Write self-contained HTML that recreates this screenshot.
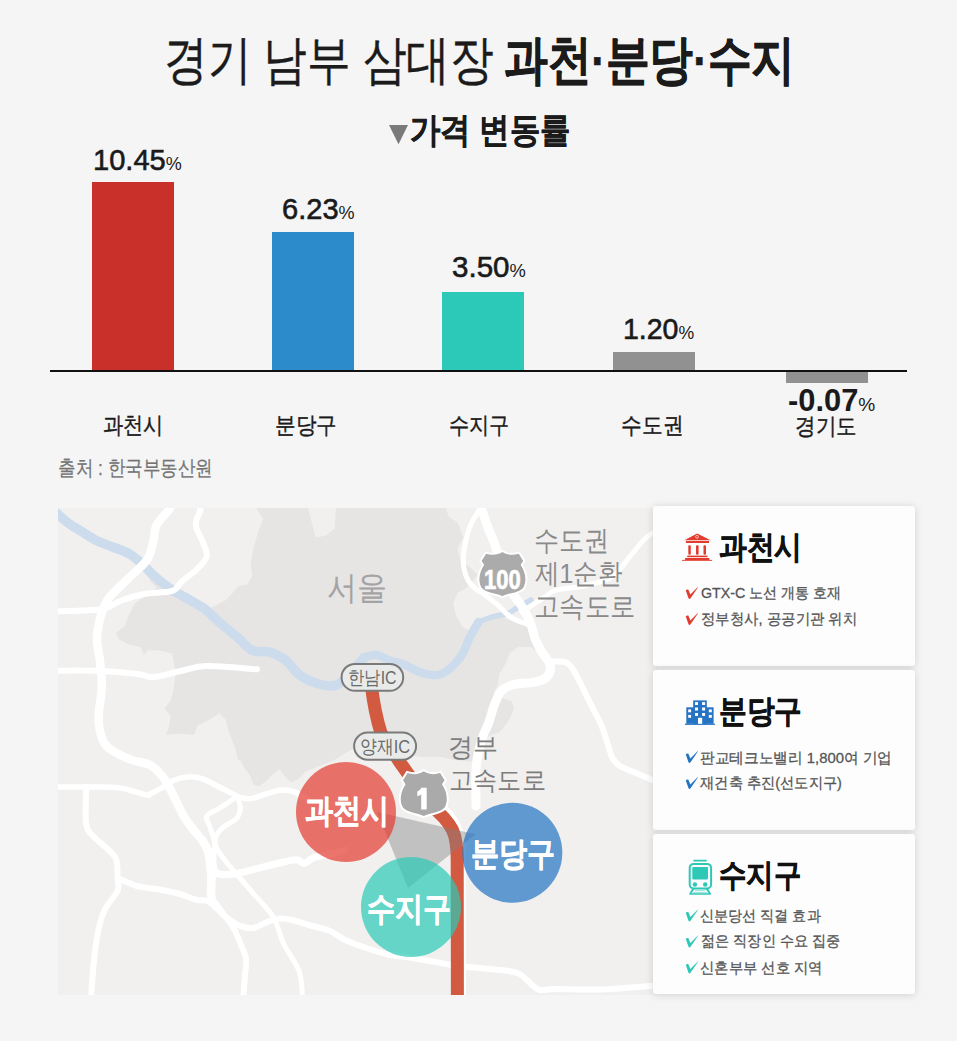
<!DOCTYPE html>
<html lang="ko">
<head>
<meta charset="utf-8">
<title>경기 남부 삼대장 과천·분당·수지</title>
<style>
html,body{margin:0;padding:0}
body{width:957px;height:1041px;overflow:hidden;position:relative;background:#f5f5f5;font-family:"Liberation Sans",sans-serif;color:#1a1a1a}
.t{position:absolute;white-space:nowrap;line-height:1;transform-origin:0 0}
.bar{position:absolute;width:82px}
.pct{font-size:0.62em;-webkit-text-stroke:0 !important}
.card{position:absolute;left:653px;width:262px;height:160px;background:#fdfdfd;border-radius:3px;box-shadow:0 1px 8px rgba(0,0,0,0.15)}
</style>
</head>
<body>
<svg style="position:absolute;left:389px;top:124.5px" width="20" height="20"><path d="M0 0H19L9.5 19.3Z" fill="#7a7a7a"/></svg>
<div class="bar" style="left:92px;top:182px;height:188px;background:#c9302a"></div>
<div class="bar" style="left:272px;top:232px;height:138px;background:#2b8bcb"></div>
<div class="bar" style="left:442px;top:292px;height:78px;background:#2dc9b8"></div>
<div class="bar" style="left:613px;top:352px;height:18px;background:#919191"></div>
<div class="bar" style="left:786px;top:372px;height:11px;background:#919191"></div>
<div style="position:absolute;left:50px;top:370px;width:857px;height:2px;background:#111"></div>
<div class="t" id="title" style="left:164.3px;top:33.8px;font-size:52.50px;transform:scaleX(0.8236);color:#1b1b1b;-webkit-text-stroke:0.35px #1b1b1b">경기 남부 삼대장</div>
<div class="t" id="title2" style="left:503.5px;top:34.1px;font-size:52.50px;transform:scaleX(0.8242);color:#1b1b1b;font-weight:bold;-webkit-text-stroke:0.6px #1b1b1b">과천·분당·수지</div>
<div class="t" id="sub" style="left:410.2px;top:112.9px;font-size:35.44px;transform:scaleX(0.8673);font-weight:bold;color:#1b1b1b;-webkit-text-stroke:0.4px #1b1b1b">가격 변동률</div>
<div class="t" id="v1" style="left:93.2px;top:145.1px;font-size:29.80px;transform:scaleX(0.9756);-webkit-text-stroke:0.6px #1a1a1a">10.45<span class="pct">%</span></div>
<div class="t" id="v2" style="left:281.7px;top:193.8px;font-size:29.80px;transform:scaleX(0.9754);-webkit-text-stroke:0.6px #1a1a1a">6.23<span class="pct">%</span></div>
<div class="t" id="v3" style="left:451.7px;top:251.7px;font-size:29.80px;transform:scaleX(0.9917);-webkit-text-stroke:0.6px #1a1a1a">3.50<span class="pct">%</span></div>
<div class="t" id="v4" style="left:623.2px;top:313.9px;font-size:29.80px;transform:scaleX(0.9566);-webkit-text-stroke:0.6px #1a1a1a">1.20<span class="pct">%</span></div>
<div class="t" id="v5" style="left:787.5px;top:384.9px;font-size:30.45px;transform:scaleX(1.0138);font-weight:bold">-0.07<span class="pct" style="font-weight:normal;-webkit-text-stroke:0.6px #1a1a1a">%</span></div>
<div class="t" id="l1" style="left:102.9px;top:414.0px;font-size:23.00px;transform:scaleX(0.8775);-webkit-text-stroke:0.4px #1a1a1a">과천시</div>
<div class="t" id="l2" style="left:275.2px;top:414.1px;font-size:23.00px;transform:scaleX(0.8955);-webkit-text-stroke:0.4px #1a1a1a">분당구</div>
<div class="t" id="l3" style="left:448.7px;top:414.0px;font-size:23.00px;transform:scaleX(0.8777);-webkit-text-stroke:0.4px #1a1a1a">수지구</div>
<div class="t" id="l4" style="left:621.1px;top:414.0px;font-size:23.00px;transform:scaleX(0.9037);-webkit-text-stroke:0.4px #1a1a1a">수도권</div>
<div class="t" id="l5" style="left:794.7px;top:414.7px;font-size:23.00px;transform:scaleX(0.8934);-webkit-text-stroke:0.4px #1a1a1a">경기도</div>
<div class="t" id="src" style="left:57.7px;top:458.2px;font-size:20.73px;transform:scaleX(0.8359);color:#747474;-webkit-text-stroke:0.25px #747474">출처 : 한국부동산원</div>
<div id="map" style="position:absolute;left:58px;top:508px;width:600px;height:487px;overflow:hidden;background:#f1f0ef">
<svg width="600" height="487" viewBox="58 508 600 487" style="position:absolute;left:0;top:0">
<rect x="58" y="508" width="600" height="487" fill="#f1f0ef"/>
<path fill="#e6e5e4" d="M256.9,508.0 L256.9,509.4 L263.2,518.8 L258.5,531.3 L253.8,547.0 L250.6,562.7 L252.2,575.2 L247.5,584.6 L238.1,586.2 L231.8,594.0 L225.5,600.3 L209.9,608.2 L203.6,608.2 L184.8,597.2 L169.1,587.8 L153.4,575.2 L147.2,573.7 L150.3,581.5 L156.6,587.8 L144.0,597.2 L134.6,603.4 L128.4,616.0 L125.2,625.4 L115.8,633.2 L119.0,639.5 L128.4,644.2 L140.9,647.3 L144.0,655.2 L147.2,650.5 L159.7,650.5 L172.3,653.6 L173.8,663.0 L175.4,675.5 L173.8,688.1 L170.7,700.6 L164.4,708.5 L170.7,716.3 L169.1,725.7 L166.0,735.1 L178.5,733.5 L194.2,735.1 L197.3,725.7 L209.9,719.4 L219.3,713.2 L225.5,719.4 L228.7,732.0 L235.0,747.6 L238.1,759.9 L240.3,760.0 L244.0,767.5 L249.7,775.0 L253.4,784.5 L259.1,786.3 L266.6,780.7 L274.1,773.2 L279.8,769.4 L285.4,776.9 L291.1,782.6 L298.6,778.8 L306.1,771.3 L318.2,766.6 L333.9,760.4 L346.4,752.5 L358.0,746.3 L380.0,748.0 L400.0,752.0 L420.0,757.0 L441.0,757.0 L455.0,760.0 L476.0,762.0 L478.0,750.0 L482.7,740.0 L491.0,734.7 L499.4,732.6 L507.8,722.1 L514.0,709.6 L512.0,701.2 L505.0,699.0 L493.1,692.9 L497.3,686.6 L499.4,674.0 L505.7,663.6 L509.9,653.1 L518.2,646.9 L530.8,646.9 L545.4,657.3 L541.2,651.0 L535.0,638.5 L530.8,628.0 L520.3,623.9 L507.8,619.7 L501.5,615.5 L493.1,617.6 L476.4,621.8 L468.1,630.2 L461.8,626.0 L455.5,613.4 L453.4,603.0 L457.6,592.5 L466.0,588.4 L478.0,575.0 L469.2,566.5 L460.4,560.7 L457.5,549.0 L463.3,537.3 L457.5,522.6 L448.7,516.8 L445.8,508.0 L336.0,508.0 L334.6,528.5 L325.8,535.8 L315.6,537.3 L312.6,525.6 L308.0,508.0 Z"/>
<g fill="none" stroke="#ccdcec" stroke-linecap="round" stroke-linejoin="round">
<path stroke-width="9.5" d="M46.0,505.0 C48.0,506.5 54.0,511.0 57.8,514.1 C61.6,517.2 64.9,520.6 68.8,523.5 C72.7,526.4 76.6,528.4 81.3,531.3 C86.0,534.2 91.8,538.2 97.0,540.8 C102.2,543.4 107.5,544.9 112.7,547.0 C117.9,549.1 123.7,550.7 128.4,553.3 C133.1,555.9 136.7,559.1 140.9,562.7 C145.1,566.4 148.7,571.0 153.4,575.2 C158.1,579.4 163.9,584.1 169.1,587.8 C174.3,591.5 179.1,593.8 184.8,597.2 C190.6,600.6 197.8,604.0 203.6,608.2 C209.3,612.4 213.6,617.3 219.3,622.3 C225.1,627.2 232.6,633.2 238.1,637.9 C243.6,642.6 247.0,648.1 252.2,650.5 C257.4,652.9 263.9,650.4 269.4,652.0 C274.9,653.6 280.1,656.1 285.1,659.9 C290.1,663.7 294.2,670.9 299.5,674.8 C304.8,678.7 311.1,681.7 317.0,683.5 C322.9,685.3 329.7,686.5 334.6,685.5 C339.5,684.5 341.4,682.3 346.3,677.7 C351.2,673.1 360.9,661.1 363.8,657.8"/>
<path stroke-width="8.5" d="M363.8,657.8 C365.8,657.3 371.1,654.3 375.5,654.8 C379.9,655.2 385.5,658.9 390.2,660.5 C394.9,662.1 398.1,662.3 403.7,664.5 C409.3,666.7 417.9,671.8 424.0,673.5 C430.1,675.2 435.0,675.9 440.0,674.5 C445.0,673.1 449.9,668.7 453.8,665.0 C457.7,661.3 460.6,657.0 463.2,652.5 C465.8,648.0 466.9,643.1 469.5,638.0 C472.1,632.9 477.0,624.7 478.5,622.0"/>
<path stroke-width="5.5" d="M478.5,622.0 C480.9,621.1 488.1,618.0 493.0,616.6 C497.9,615.2 503.6,615.0 507.8,613.4 C512.0,611.8 514.3,609.4 518.2,607.2 C522.1,605.0 528.9,601.2 531.0,600.0"/>
</g>
<g fill="none" stroke="#ffffff" stroke-linecap="round" stroke-linejoin="round">
<path stroke-width="8.5" d="M172.0,500.0 C171.5,501.6 171.7,505.2 169.1,509.4 C166.5,513.6 159.2,519.9 156.6,525.1 C154.0,530.3 155.0,535.0 153.4,540.8 C151.8,546.5 151.4,553.3 147.2,559.6 C143.0,565.9 134.7,572.1 128.4,578.4 C122.1,584.7 114.0,591.5 109.6,597.2 C105.1,603.0 103.8,606.1 101.7,612.9 C99.6,619.7 97.2,629.5 97.0,637.9 C96.8,646.2 99.4,654.6 100.2,663.0 C101.0,671.4 102.0,678.7 101.7,688.1 C101.4,697.5 98.3,710.5 98.6,719.4 C98.9,728.3 100.9,736.2 103.3,741.4 C105.7,746.6 108.0,747.7 112.7,750.8 C117.4,753.9 125.3,757.5 131.5,759.9 C137.7,762.3 145.0,762.5 150.0,765.0 C155.0,767.5 158.2,771.5 161.3,775.0 C164.4,778.5 166.3,781.9 168.8,786.3 C171.3,790.7 173.8,796.4 176.3,801.4 C178.8,806.4 181.1,811.7 183.9,816.4 C186.7,821.1 190.2,825.5 193.3,829.6 C196.4,833.7 200.2,837.1 202.7,840.9 C205.2,844.7 207.1,848.1 208.3,852.2 C209.6,856.3 209.7,861.2 210.2,865.3 C210.7,869.4 211.4,872.2 211.5,876.6 C211.6,881.0 211.0,887.8 211.0,891.7 C211.0,895.6 211.5,898.6 211.6,900.0"/>
<path stroke-width="6" d="M211.6,898.0 C213.3,900.3 218.3,907.0 222.0,912.0 C225.7,917.0 230.3,922.6 233.5,928.1 C236.7,933.6 238.9,939.8 241.0,945.0 C243.1,950.2 245.4,954.4 246.1,959.4 C246.8,964.4 245.5,968.2 245.0,975.0 C244.5,981.8 243.3,995.8 243.0,1000.0"/>
<path stroke-width="6" d="M200.5,500.0 C200.5,501.6 201.3,505.2 200.5,509.4 C199.7,513.6 195.3,519.4 195.8,525.1 C196.3,530.9 201.8,538.7 203.6,543.9 C205.4,549.1 207.8,552.2 206.7,556.4 C205.6,560.6 201.5,564.8 197.3,569.0 C193.1,573.2 185.9,577.9 181.7,581.5 C177.5,585.1 178.6,588.8 172.3,590.9 C166.0,593.0 152.4,592.4 144.0,594.0 C135.6,595.6 127.8,598.2 122.1,600.3 C116.4,602.4 113.8,605.0 109.6,606.6 C105.4,608.2 105.6,608.9 97.0,609.7 C88.4,610.5 65.6,611.0 57.8,611.3 C50.0,611.6 51.3,611.3 50.0,611.3"/>
<path stroke-width="6" d="M50.0,670.8 C57.8,670.8 82.4,670.3 97.0,670.8 C111.6,671.3 128.4,673.0 137.8,674.0 C147.2,675.0 146.1,677.6 153.4,677.1 C160.7,676.6 172.8,672.6 181.7,670.8 C190.6,669.0 194.2,666.4 206.7,666.1 C219.2,665.9 248.5,668.8 256.9,669.3"/>
<path stroke-width="5.5" d="M50.0,787.0 C56.0,787.0 74.5,786.8 86.2,787.0 C97.9,787.2 110.1,786.7 120.0,788.0 C129.9,789.3 140.8,793.9 145.8,794.9 C150.8,795.9 147.4,795.0 150.0,793.9 C152.6,792.8 157.5,790.4 161.3,788.2 C165.1,786.0 168.2,782.6 172.6,780.7 C177.0,778.8 182.6,777.2 187.6,776.9 C192.6,776.6 197.7,777.2 202.7,778.8 C207.7,780.4 212.7,783.8 217.7,786.3 C222.7,788.8 229.0,792.0 232.8,793.9 C236.6,795.8 237.2,796.8 240.3,797.6 C243.4,798.4 247.2,799.2 251.6,798.6 C256.0,798.0 261.6,795.3 266.6,793.9 C271.6,792.5 277.0,790.4 281.7,790.1 C286.4,789.8 291.7,791.1 294.8,792.0 C297.9,792.9 298.0,794.4 300.5,795.7 C303.0,797.0 308.4,799.3 310.0,800.0"/>
<path stroke-width="6" d="M86.2,787.0 C86.2,793.3 84.7,816.1 86.2,824.6 C87.7,833.1 91.9,834.3 95.0,838.0 C98.1,841.7 101.5,843.1 105.0,846.6 C108.5,850.1 113.9,853.9 116.0,859.1 C118.1,864.3 117.3,872.7 117.6,877.9 C117.9,883.1 119.7,885.3 117.6,890.5 C115.5,895.7 108.1,903.0 105.0,909.3 C101.9,915.6 100.6,919.6 98.8,928.1 C97.0,936.6 95.3,948.0 94.0,960.0 C92.7,972.0 91.4,993.3 90.9,1000.0"/>
<path stroke-width="6" d="M117.6,877.9 C120.7,879.2 129.1,883.8 136.4,885.8 C143.7,887.8 154.3,888.5 161.3,889.8 C168.3,891.1 172.2,891.8 178.2,893.5 C184.1,895.2 191.9,898.7 197.0,900.0 C202.1,901.3 204.0,898.8 208.5,901.4 C213.0,904.0 219.2,911.6 224.1,915.5 C229.0,919.4 233.3,922.9 238.0,925.0 C242.7,927.1 247.9,928.4 252.4,928.1 C256.9,927.8 260.8,924.6 265.0,923.0 C269.2,921.4 272.9,919.2 277.4,918.7 C281.9,918.2 286.8,919.0 292.0,920.0 C297.2,921.0 302.5,923.2 308.8,925.0 C315.1,926.8 323.7,928.4 330.0,931.0 C336.3,933.6 339.4,937.4 346.4,940.6 C353.4,943.8 364.7,947.6 372.0,950.0 C379.3,952.4 384.4,953.8 390.0,955.0 C395.6,956.2 399.1,956.0 405.8,957.0 C412.5,958.0 422.9,959.8 430.0,961.0 C437.1,962.2 443.1,963.6 448.6,964.5 C454.1,965.4 456.8,965.7 463.0,966.4 C469.2,967.1 478.3,967.9 486.0,968.7 C493.7,969.5 503.2,970.0 509.0,971.0 C514.8,972.0 516.7,972.2 520.5,974.5 C524.3,976.8 528.8,982.2 532.0,984.8 C535.2,987.4 536.2,989.3 540.0,990.0 C543.8,990.7 545.0,989.1 555.0,989.0 C565.0,988.9 584.0,990.0 600.0,989.5 C616.0,989.0 640.2,986.8 651.0,986.0 C661.8,985.2 662.7,985.2 665.0,985.0"/>
<path stroke-width="5" d="M236.5,796.7 C234.0,798.4 226.2,804.0 221.5,807.0 C216.8,810.0 210.8,812.6 208.3,814.5 C205.8,816.4 206.1,816.1 206.4,818.3 C206.7,820.5 208.9,824.2 210.2,827.7 C211.4,831.2 212.7,835.2 213.9,839.0 C215.2,842.8 215.2,845.9 217.7,850.3 C220.2,854.7 225.2,860.6 229.0,865.3 C232.8,870.0 236.5,874.1 240.3,878.5 C244.1,882.9 248.0,887.6 251.6,891.7 C255.2,895.8 258.2,898.5 262.0,903.0 C265.8,907.5 270.7,911.9 274.3,918.7 C277.9,925.5 279.5,934.9 283.7,943.8 C287.9,952.7 296.3,962.6 299.4,972.0 C302.5,981.4 302.0,995.3 302.5,1000.0"/>
<path stroke-width="5" d="M238.4,799.5 C238.7,801.1 240.6,805.8 240.3,808.9 C240.0,812.0 239.0,815.5 236.5,818.3 C234.0,821.1 228.3,823.3 225.2,825.8 C222.1,828.3 219.4,830.5 217.7,833.3 C216.0,836.1 215.5,838.7 214.9,842.8 C214.3,846.9 213.9,853.4 213.9,857.8 C213.9,862.2 214.0,866.3 214.9,869.1 C215.8,871.9 218.8,873.8 219.6,874.7"/>
<path stroke-width="7" d="M212.1,872.8 C214.3,873.1 220.5,874.7 225.2,874.7 C229.9,874.7 234.0,874.0 240.3,872.8 C246.6,871.5 255.9,868.9 262.8,867.2 C269.7,865.5 276.1,863.8 281.7,862.5 C287.3,861.2 292.9,859.6 296.7,859.7 C300.4,859.9 301.4,863.7 304.2,863.4 C307.0,863.1 309.3,859.4 313.6,857.8 C317.9,856.2 324.8,855.3 330.0,854.0 C335.2,852.7 342.5,850.7 345.0,850.0"/>
<path stroke-width="9" d="M479.0,500.0 C479.5,501.7 480.5,505.4 482.0,510.0 C483.5,514.6 485.8,521.9 488.0,527.7 C490.2,533.5 492.5,537.1 495.0,545.0 C497.5,552.9 500.2,567.1 503.0,575.0 C505.8,582.9 508.8,587.1 512.0,592.5 C515.2,597.9 519.3,602.0 522.4,607.2 C525.5,612.4 528.7,618.7 530.8,623.9 C532.9,629.1 533.3,634.0 535.0,638.5 C536.7,643.0 539.0,647.2 541.2,651.0 C543.5,654.8 546.9,658.4 548.5,661.5 C550.1,664.6 551.1,667.1 550.6,669.9 C550.1,672.7 548.4,676.1 545.4,678.2 C542.4,680.3 538.1,681.4 532.9,682.4 C527.7,683.4 519.2,683.1 514.0,684.5 C508.8,685.9 504.8,687.3 501.5,690.8 C498.2,694.3 496.3,700.2 494.2,705.4 C492.1,710.6 490.9,716.9 489.0,722.1 C487.1,727.3 484.4,731.7 482.7,736.7 C480.9,741.7 479.6,747.3 478.5,752.0 C477.4,756.7 476.8,760.3 476.4,765.0 C475.9,769.7 475.9,773.2 475.8,780.0 C475.7,786.8 476.0,801.7 476.0,806.0"/>
<path stroke-width="5" d="M482.0,500.0 C481.5,501.7 480.8,506.0 479.0,510.0 C477.2,514.0 473.2,519.0 471.0,524.0 C468.8,529.0 467.2,534.7 466.0,540.0 C464.8,545.3 463.8,551.2 463.5,556.0 C463.2,560.8 463.2,564.8 464.0,569.0 C464.8,573.2 466.5,577.7 468.5,581.0 C470.5,584.3 473.3,586.7 476.0,589.0 C478.7,591.3 481.1,592.0 484.8,594.7 C488.5,597.5 494.8,602.3 498.4,605.5 C502.0,608.7 503.6,611.3 506.5,613.7 C509.4,616.1 512.4,618.2 516.0,620.0 C519.6,621.8 525.6,623.4 528.3,624.6 C531.0,625.8 531.4,626.6 532.0,627.0"/>
<path stroke-width="6" d="M548.0,662.0 C549.0,661.9 550.8,661.4 553.8,661.5 C556.8,661.6 562.8,660.8 566.3,662.5 C569.8,664.2 571.5,666.9 574.6,672.0 C577.7,677.1 582.0,686.6 585.1,692.9 C588.2,699.2 590.7,704.0 593.5,709.6 C596.3,715.2 599.4,720.4 601.8,726.3 C604.2,732.2 606.4,739.9 608.1,745.1 C609.9,750.3 610.3,754.1 612.3,757.6 C614.3,761.1 616.0,763.4 620.0,766.0 C624.0,768.6 629.3,770.2 636.0,773.0 C642.7,775.8 656.0,781.3 660.0,783.0"/>
<path stroke-width="5" d="M522.0,612.0 C525.6,609.6 538.1,601.3 543.8,597.7 C549.5,594.1 549.0,592.3 556.3,590.2 C563.6,588.1 578.3,587.5 587.7,585.2 C597.1,582.9 605.9,581.0 612.8,576.4 C619.7,571.8 623.6,563.9 629.0,557.6 C634.4,551.3 639.8,543.7 645.0,538.8 C650.2,533.9 657.5,529.8 660.0,528.0"/>
</g>
</svg>
<svg width="600" height="487" viewBox="58 508 600 487" style="position:absolute;left:0;top:0">
<defs>
<path id="shd" d="M0,-22.4 C-4,-19.6 -10,-18.6 -16.3,-20.6 L-20.8,-13.4 Q-19.4,-11.4 -18.2,-9.5 C-23.2,-2 -24.6,7 -21,13.6 C-17,19.2 -6,19 0,22.4 C6,19 17,19.2 21,13.6 C24.6,7 23.2,-2 18.2,-9.5 Q19.4,-11.4 20.8,-13.4 L16.3,-20.6 C10,-18.6 4,-19.6 0,-22.4 Z"/>
</defs>
<!-- red highway -->
<path fill="none" stroke="#ffffff" stroke-width="14" d="M441,810 Q455,822 458.5,840 L459,1000"/>
<path fill="none" stroke="#d25a41" stroke-width="13" d="M371.4,686 Q374.5,712 381,733 L399,761 L430,805 Q446.5,818 452.5,830 Q457.2,840 457.2,860 L457.4,1000"/>
<!-- triangle -->
<path d="M377,812 L475.5,834.2 L408,888 Z" fill="#808080" fill-opacity="0.42"/>
<!-- circles -->
<circle cx="346" cy="812" r="50" fill="#e23b2f" fill-opacity="0.7"/>
<circle cx="512.3" cy="852.7" r="50" fill="#2272c3" fill-opacity="0.7"/>
<circle cx="411" cy="907" r="50" fill="#2ac9b7" fill-opacity="0.7"/>
<!-- pills -->
<rect x="341.6" y="663.9" width="61.6" height="26.9" rx="13.4" fill="#e9eaea" stroke="#7a7a7a" stroke-width="2"/>
<rect x="354.1" y="732.5" width="62" height="27.2" rx="13.6" fill="#e9eaea" stroke="#7a7a7a" stroke-width="2"/>
<!-- shields -->
<g transform="translate(502.4,574.1) scale(1.0,0.985)"><use href="#shd" fill="#ababab" stroke="#ffffff" stroke-width="4" paint-order="stroke"/></g>
<g transform="translate(423.8,793.7) scale(1.0,1.0)"><use href="#shd" fill="#aaaaaa" stroke="#ffffff" stroke-width="4" paint-order="stroke"/></g>
<path fill="#ffffff" d="M421.2,787.7 H426.7 V809.4 H421.2 V794.6 Q419.4,795.7 417.3,796.2 V791.6 Q420.2,790.6 421.2,787.7 Z"/>
</svg>

</div>
<div class="t" id="seoul" style="left:327.4px;top:570.7px;font-size:33.34px;transform:scaleX(0.9100);color:#a3a3a3">서울</div>
<div class="t" id="ring1" style="left:534.3px;top:526.4px;font-size:28.30px;transform:scaleX(0.8960);color:#8a8a8a">수도권</div>
<div class="t" id="ring2" style="left:535.3px;top:559.3px;font-size:28.30px;transform:scaleX(0.8739);color:#8a8a8a">제1순환</div>
<div class="t" id="ring3" style="left:534.4px;top:591.9px;font-size:28.30px;transform:scaleX(0.9051);color:#8a8a8a">고속도로</div>
<div class="t" id="gb1" style="left:448.2px;top:734.1px;font-size:26.00px;transform:scaleX(0.9617);color:#7d7d7d">경부</div>
<div class="t" id="gb2" style="left:448.8px;top:767.2px;font-size:26.00px;transform:scaleX(0.9311);color:#7d7d7d">고속도로</div>
<div class="t" id="hn" style="left:348.1px;top:668.6px;font-size:18.50px;transform:scaleX(0.8601);color:#6a6a6a">한남IC</div>
<div class="t" id="yj" style="left:360.4px;top:738.3px;font-size:18.50px;transform:scaleX(0.8865);color:#6a6a6a">양재IC</div>
<div class="t" id="s100" style="left:484.0px;top:567.3px;font-size:26.92px;transform:scaleX(0.8171);color:#fff;font-weight:bold;-webkit-text-stroke:0.7px #fff">100</div>
<div class="t" id="c1" style="left:304.8px;top:794.9px;font-size:32.50px;transform:scaleX(0.8492);color:#fff;font-weight:bold;-webkit-text-stroke:0.6px #fff">과천시</div>
<div class="t" id="c2" style="left:471.3px;top:837.7px;font-size:32.50px;transform:scaleX(0.8506);color:#fff;font-weight:bold;-webkit-text-stroke:0.6px #fff">분당구</div>
<div class="t" id="c3" style="left:367.3px;top:892.8px;font-size:32.50px;transform:scaleX(0.8503);color:#fff;font-weight:bold;-webkit-text-stroke:0.6px #fff">수지구</div>
<div class="card" style="top:506px"></div>
<div class="card" style="top:670px"></div>
<div class="card" style="top:834px"></div>
<svg style="position:absolute;left:0;top:0" width="957" height="1041" viewBox="0 0 957 1041">
<defs>
<path id="ck" d="M-0.2,3.6 Q0.5,2 2.3,2.5 L4.4,7.5 L11.8,0 L11.9,0.6 L4.7,11 Q3.5,12.6 2.5,11.3 Z"/>
</defs>
<!-- gov icon -->
<g fill="#e23b2f">
<path d="M697.2,533.4 L710.6,540.3 L684.3,540.3 Z"/>
<rect x="685.9" y="541" width="23.1" height="2"/>
<rect x="688.3" y="545.2" width="2.5" height="9.6" rx="1"/>
<rect x="696" y="545.2" width="2.6" height="9.6" rx="1"/>
<rect x="703.5" y="545.2" width="2.5" height="9.6" rx="1"/>
<rect x="687.2" y="555.6" width="20.3" height="1.6"/>
<rect x="685.1" y="558" width="24.3" height="2.1"/>
<rect x="682" y="559.9" width="30.1" height="0.9"/>
</g>
<circle cx="697" cy="536.8" r="1.4" fill="none" stroke="#fbd7d3" stroke-width="0.8"/>
<!-- building icon -->
<g fill="#2574c4">
<rect x="693.2" y="700.4" width="13.6" height="23.4"/>
<rect x="686.3" y="707.3" width="27.3" height="16.5"/>
<rect x="685" y="723.6" width="29.9" height="1.3"/>
</g>
<g fill="#ffffff">
<rect x="695" y="702.1" width="3" height="2.9"/><rect x="702.1" y="702.1" width="3" height="2.9"/>
<rect x="695" y="707.5" width="3" height="3"/><rect x="702.1" y="707.5" width="3" height="3"/>
<rect x="695" y="713" width="3" height="2.9"/><rect x="702.1" y="713" width="3" height="2.9"/>
<rect x="688.2" y="709.4" width="2.9" height="2.9"/><rect x="708.8" y="709.4" width="3" height="2.9"/>
<rect x="688.2" y="714.9" width="2.9" height="2.9"/><rect x="708.8" y="714.9" width="3" height="2.9"/>
<rect x="698" y="717.8" width="4.2" height="6"/>
</g>
<!-- train icon -->
<g fill="#2ec8b7">
<path d="M693.1,859.8 H707 L706.4,861.6 H693.7 Z"/>
<rect x="689.7" y="863.9" width="21.4" height="24.6" rx="4" fill="none" stroke="#2ec8b7" stroke-width="2"/>
<rect x="692.3" y="867.1" width="15.7" height="12.3" rx="0.8"/>
<circle cx="694.9" cy="884.5" r="2.2"/>
<circle cx="705.2" cy="884.5" r="2.2"/>
<path d="M692,889 L694.5,889 L691.5,893.2 L708.6,893.2 L705.6,889 L708.2,889 L711,893.5 Q711.2,894.7 710,894.7 L690.2,894.7 Q689,894.7 689.3,893.5 Z"/>
<rect x="694.9" y="890.3" width="10.1" height="0.8" opacity="0.6"/>
<rect x="692.9" y="892.1" width="14.1" height="0.8" opacity="0.6"/>
</g>
<!-- checks -->
<use href="#ck" x="686" y="587" fill="#e23b2f"/>
<use href="#ck" x="686" y="613" fill="#e23b2f"/>
<use href="#ck" x="686" y="751" fill="#2574c4"/>
<use href="#ck" x="686" y="777" fill="#2574c4"/>
<use href="#ck" x="686" y="909.5" fill="#2ec8b7"/>
<use href="#ck" x="686" y="935.5" fill="#2ec8b7"/>
<use href="#ck" x="686" y="961.5" fill="#2ec8b7"/>
</svg>

<div class="t" id="k1" style="left:719.4px;top:531.6px;font-size:31.50px;transform:scaleX(0.8669);font-weight:bold;color:#111;-webkit-text-stroke:0.5px #111">과천시</div>
<div class="t" id="k2" style="left:719.0px;top:695.8px;font-size:31.50px;transform:scaleX(0.8659);font-weight:bold;color:#111;-webkit-text-stroke:0.5px #111">분당구</div>
<div class="t" id="k3" style="left:719.0px;top:860.2px;font-size:31.50px;transform:scaleX(0.8577);font-weight:bold;color:#111;-webkit-text-stroke:0.5px #111">수지구</div>
<div class="t" id="a1" style="left:700.7px;top:585.0px;font-size:15.20px;transform:scaleX(0.9371);color:#555;-webkit-text-stroke:0.3px #555">GTX-C 노선 개통 호재</div>
<div class="t" id="a2" style="left:700.6px;top:611.2px;font-size:15.20px;transform:scaleX(0.9600);color:#555;-webkit-text-stroke:0.3px #555">정부청사, 공공기관 위치</div>
<div class="t" id="b1" style="left:699.9px;top:749.5px;font-size:15.20px;transform:scaleX(0.9780);color:#555;-webkit-text-stroke:0.3px #555">판교테크노밸리 1,800여 기업</div>
<div class="t" id="b2" style="left:699.8px;top:774.5px;font-size:15.20px;transform:scaleX(0.9501);color:#555;-webkit-text-stroke:0.3px #555">재건축 추진(선도지구)</div>
<div class="t" id="d1" style="left:700.4px;top:907.9px;font-size:15.20px;transform:scaleX(0.9395);color:#555;-webkit-text-stroke:0.3px #555">신분당선 직결 효과</div>
<div class="t" id="d2" style="left:700.5px;top:933.4px;font-size:15.20px;transform:scaleX(0.9423);color:#555;-webkit-text-stroke:0.3px #555">젊은 직장인 수요 집중</div>
<div class="t" id="d3" style="left:700.3px;top:960.3px;font-size:15.20px;transform:scaleX(0.9544);color:#555;-webkit-text-stroke:0.3px #555">신혼부부 선호 지역</div>
</body>
</html>
